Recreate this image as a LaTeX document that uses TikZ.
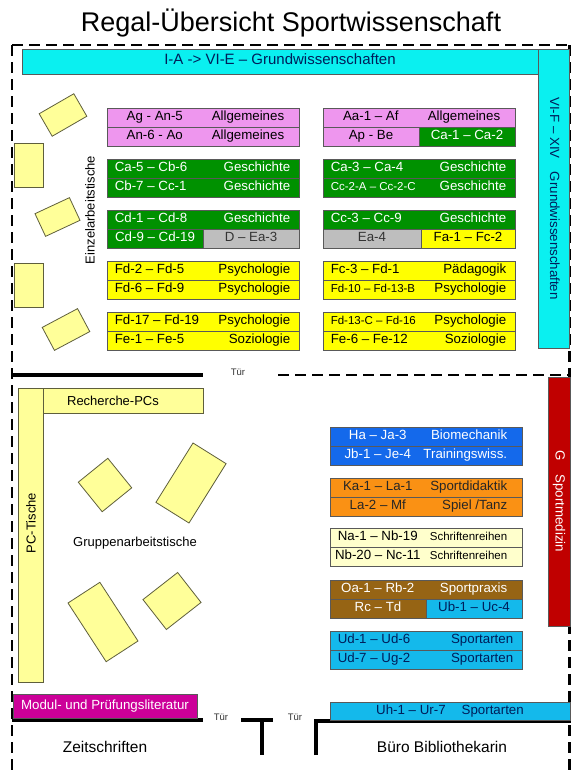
\documentclass[tikz,border=0pt]{standalone}
\usepackage{fontspec}
\setmainfont{Liberation Sans}
\usetikzlibrary{positioning,calc}
\definecolor{pinkshelf}{RGB}{238,150,238}
\definecolor{greenshelf}{RGB}{0,145,0}
\definecolor{grayshelf}{RGB}{190,190,190}
\definecolor{yellowshelf}{RGB}{255,255,0}
\definecolor{aquashelf}{RGB}{10,240,240}
\definecolor{skyshelf}{RGB}{20,185,235}
\definecolor{blueshelf}{RGB}{20,105,235}
\definecolor{orangeshelf}{RGB}{250,145,20}
\definecolor{creamshelf}{RGB}{255,255,204}
\definecolor{brownshelf}{RGB}{150,100,20}
\definecolor{redshelf}{RGB}{192,0,0}
\definecolor{magentashelf}{RGB}{204,0,153}
\definecolor{deskfill}{RGB}{255,255,153}
\definecolor{deskline}{RGB}{95,95,60}
\definecolor{navytext}{RGB}{0,30,90}
\newcommand{\shelfsmall}{\fontsize{11.5}{13}\selectfont}
\newcommand{\shelfrow}[8]{%
  \node[shelfbox, fill=#5, minimum width={(#3-#2)*1pt}] (#1) at ({(#2+#3)/2},{#4+9.5}) {};
  \node[shelftext, text=#6, anchor=west] (#1l) at ([xshift=8pt]#1.west) {#7};
  \node[shelftext, text=#6, anchor=east] (#1r) at ([xshift=-9pt]#1.east) {#8};}
\newcommand{\shelfmid}[8]{%
  \node[shelfbox, fill=#5, minimum width={(#3-#2)*1pt}] (#1) at ({(#2+#3)/2},{#4+9.5}) {};
  \node[shelftext, text=#6] (#1l) at ($(#1.west)!0.25!(#1.east)$) {#7};
  \node[shelftext, text=#6, anchor=east] (#1r) at ([xshift=-15pt]#1.east) {#8};}
\newcommand{\shelfcell}[7]{%
  \node[shelfbox, shelftext, fill=#5, text=#6, minimum width={(#3-#2)*1pt}, minimum height=19pt] (#1) at ({(#2+#3)/2},{#4+9.5}) {#7};}
\begin{document}
\begin{tikzpicture}[x=1pt, y=-1pt,
    wall/.style={line width=3.2pt},
    dashwall/.style={line width=2.6pt, dash pattern=on 11pt off 6pt},
    shelfbox/.style={draw=black!65, line width=0.8pt, minimum height=19pt, inner sep=0pt},
    shelftext/.style={font=\fontsize{13.3}{15}\selectfont, inner sep=0pt, text height=9.5pt, text depth=2.6pt},
    desk/.style={draw=deskline, fill=deskfill, line width=0.8pt, inner sep=0pt},
    roomtext/.style={font=\fontsize{13}{15}\selectfont, inner sep=0pt},
    doortext/.style={font=\fontsize{9.5}{11}\selectfont, text=black!80, inner sep=0pt}]
  \useasboundingbox (0,0) rectangle (571,771);

  \node[font=\fontsize{27}{30}\selectfont] (title) at (291,23) {Regal-Übersicht Sportwissenschaft};

  \draw[dashwall] (12,45) -- (571,45);
  \draw[dashwall] (12,45) -- (12,771);
  \draw[dashwall] (569.5,45) -- (569.5,771);
  \draw[dashwall] (278,375) -- (571,375);
  \draw[wall] (12,375) -- (203,375);
  \draw[wall] (12,720) -- (203,720);
  \draw[wall] (241,720) -- (273,720) (262,720) -- (262,755);
  \draw[wall] (316,755) -- (316,721) -- (571,721);
  \node[doortext] (door1) at (238,372) {Tür};
  \node[doortext] (door2) at (221,717) {Tür};
  \node[doortext] (door3) at (295,717) {Tür};

  \node[shelfbox, fill=aquashelf, minimum width=516pt, minimum height=25pt, shelftext, font=\fontsize{15}{17}\selectfont, text=navytext] (topbar) at (280,61.5) {I-A -> VI-E – Grundwissenschaften};
  \node[shelfbox, fill=aquashelf, minimum width=31pt, minimum height=299pt] (sidebar) at (553.5,198.5) {};
  \node[shelftext, text=navytext, rotate=-90] (sidetext) at (sidebar) {VI-F – XIV\quad Grundwissenschaften};

  \node[desk, minimum width=40pt, minimum height=26pt, rotate=30] (desk1) at (63,115) {};
  \node[desk, minimum width=29pt, minimum height=44pt] (desk2) at (28.5,165) {};
  \node[desk, minimum width=38pt, minimum height=25pt, rotate=25] (desk3) at (57.5,217) {};
  \node[desk, minimum width=29pt, minimum height=44pt] (desk4) at (28.5,285) {};
  \node[desk, minimum width=40pt, minimum height=26pt, rotate=28] (desk5) at (66,329.5) {};
  \node[roomtext, rotate=90] (single) at (90,210) {Einzelarbeitstische};

  \shelfmid{p1}{107}{299}{108}{pinkshelf}{black}{Ag - An-5}{Allgemeines}
  \shelfmid{p2}{107}{299}{127}{pinkshelf}{black}{An-6 - Ao}{Allgemeines}
  \shelfrow{g1}{107}{299}{159}{greenshelf}{white}{Ca-5 – Cb-6}{Geschichte}
  \shelfrow{g2}{107}{299}{178}{greenshelf}{white}{Cb-7 – Cc-1}{Geschichte}
  \shelfrow{g3}{107}{299}{210}{greenshelf}{white}{Cd-1 – Cd-8}{Geschichte}
  \shelfcell{g4}{107}{203}{229}{greenshelf}{white}{Cd-9 – Cd-19}
  \shelfcell{d1}{203}{299}{229}{grayshelf}{black!80}{D – Ea-3}
  \shelfrow{y1}{107}{299}{261}{yellowshelf}{black}{Fd-2 – Fd-5}{Psychologie}
  \shelfrow{y2}{107}{299}{280}{yellowshelf}{black}{Fd-6 – Fd-9}{Psychologie}
  \shelfrow{y3}{107}{299}{312}{yellowshelf}{black}{Fd-17 – Fd-19}{Psychologie}
  \shelfrow{y4}{107}{299}{331}{yellowshelf}{black}{Fe-1 – Fe-5}{Soziologie}

  \shelfmid{p3}{323}{515}{108}{pinkshelf}{black}{Aa-1 –  Af}{Allgemeines}
  \shelfcell{p4}{323}{419}{127}{pinkshelf}{black}{Ap -  Be}
  \shelfcell{g5}{419}{515}{127}{greenshelf}{white}{Ca-1 – Ca-2}
  \shelfrow{g6}{323}{515}{159}{greenshelf}{white}{Ca-3 – Ca-4}{Geschichte}
  \shelfrow{g7}{323}{515}{178}{greenshelf}{white}{\shelfsmall Cc-2-A – Cc-2-C}{Geschichte}
  \shelfrow{g8}{323}{515}{210}{greenshelf}{white}{Cc-3 – Cc-9}{Geschichte}
  \shelfcell{e1}{323}{421}{229}{grayshelf}{black!80}{Ea-4}
  \shelfcell{f1}{421}{515}{229}{yellowshelf}{black}{Fa-1 – Fc-2}
  \shelfrow{y5}{323}{515}{261}{yellowshelf}{black}{Fc-3 – Fd-1}{Pädagogik}
  \shelfrow{y6}{323}{515}{280}{yellowshelf}{black}{\shelfsmall Fd-10 – Fd-13-B}{Psychologie}
  \shelfrow{y7}{323}{515}{312}{yellowshelf}{black}{\shelfsmall Fd-13-C – Fd-16}{Psychologie}
  \shelfrow{y8}{323}{515}{331}{yellowshelf}{black}{Fe-6 – Fe-12}{Soziologie}

  \node[shelfbox, fill=deskfill, draw=deskline, minimum width=25pt, minimum height=294pt] (pcdesk) at (30.5,535) {};
  \node[shelfbox, fill=deskfill, draw=deskline, minimum width=160pt, minimum height=25pt] (pcrow) at (123,400.5) {};
  \node[roomtext] (pcrowtext) at ([xshift=-10pt]pcrow.center) {Recherche-PCs};
  \node[roomtext, rotate=90] (pcdesktext) at (31,523) {PC-Tische};

  \node[desk, minimum width=38pt, minimum height=38pt, rotate=-51] (group1) at (105,485) {};
  \node[desk, minimum width=39pt, minimum height=70pt, rotate=-32] (group2) at (191,483) {};
  \node[desk, minimum width=38pt, minimum height=70pt, rotate=33] (group3) at (103,622) {};
  \node[desk, minimum width=38pt, minimum height=44pt, rotate=-52] (group4) at (172,601) {};
  \node[roomtext] (grouptext) at (135,543) {Gruppenarbeitstische};

  \node[shelfbox, fill=redshelf, minimum width=22pt, minimum height=249pt] (sportmed) at (559,501.5) {};
  \node[shelftext, text=white, rotate=-90] (sportmedtext) at (sportmed) {G\quad Sportmedizin};

  \shelfmid{b1}{330}{522}{427}{blueshelf}{white}{Ha – Ja-3}{Biomechanik}
  \shelfmid{b2}{330}{522}{446}{blueshelf}{white}{Jb-1 – Je-4}{Trainingswiss.}
  \shelfmid{o1}{330}{522}{478}{orangeshelf}{black!85}{Ka-1 – La-1}{Sportdidaktik}
  \shelfmid{o2}{330}{522}{497}{orangeshelf}{black!85}{La-2 – Mf}{Spiel /Tanz}
  \shelfmid{c1}{330}{522}{528}{creamshelf}{black}{Na-1 – Nb-19}{\shelfsmall Schriftenreihen}
  \shelfmid{c2}{330}{522}{547}{creamshelf}{black}{Nb-20 – Nc-11}{\shelfsmall Schriftenreihen}
  \shelfmid{r1}{330}{522}{580}{brownshelf}{white}{Oa-1 – Rb-2}{Sportpraxis}
  \shelfcell{r2}{330}{426}{599}{brownshelf}{white}{Rc – Td}
  \shelfcell{u1}{426}{522}{599}{skyshelf}{navytext}{Ub-1 – Uc-4}
  \shelfrow{u2}{330}{522}{631}{skyshelf}{navytext}{Ud-1 – Ud-6}{Sportarten}
  \shelfrow{u3}{330}{522}{650}{skyshelf}{navytext}{Ud-7 – Ug-2}{Sportarten}

  \node[shelfbox, shelftext, fill=skyshelf, text=navytext, minimum width=240pt, minimum height=18pt] (sportarten) at (450,711) {Uh-1 – Ur-7\hspace{16pt}Sportarten};
  \node[shelfbox, shelftext, fill=magentashelf, text=white, minimum width=184pt, minimum height=24pt] (modul) at (105,706) {Modul- und Prüfungsliteratur};

  \node[font=\fontsize{15.5}{18}\selectfont] (journals) at (105,747) {Zeitschriften};
  \node[font=\fontsize{15.5}{18}\selectfont] (office) at (442,747) {Büro Bibliothekarin};
\end{tikzpicture}
\end{document}
